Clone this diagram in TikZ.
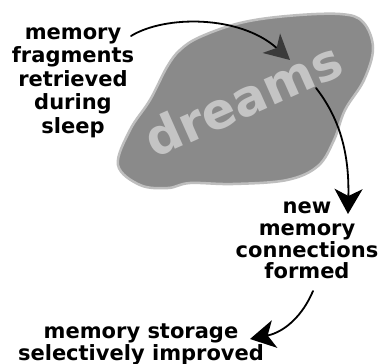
\documentclass[tikz,border=0pt]{standalone}
\usepackage{fontspec}
\setmainfont{DejaVu Sans}
\usetikzlibrary{arrows.meta}
\definecolor{blobfill}{HTML}{8A8A8A}
\definecolor{blobrim}{HTML}{BEBEBE}
\definecolor{dreamtxt}{HTML}{C4C4C4}
\definecolor{headgray}{HTML}{3A3A3A}
\begin{document}
\begin{tikzpicture}[x=1pt,y=-1pt,
  lbl/.style={font=\bfseries\fontsize{21}{22}\selectfont, align=center, inner sep=0pt, anchor=base, text=black},
  conn/.style={line width=1.8pt, line cap=round, -{Stealth[length=25pt,width=28pt,inset=7pt]}},
]
\useasboundingbox (0,0) rectangle (384,364);
\fill[white] (0,0) rectangle (384,364);
% blob
\draw[blobrim, line width=2.5pt, fill=blobfill] plot[smooth cycle, tension=0.6] coordinates {
  (200,37) (240,23) (287,16) (340,14) (363,22) (373,48) (364,80) (345,110)
  (334,140) (318,166) (287,180) (233,184) (190,183) (168,188) (140,185)
  (118,165) (130,130) (150,100) (167,67) (180,50)};
\node[rotate=24, text=dreamtxt, inner sep=0pt, font=\bfseries\fontsize{50}{50}\selectfont] (dreams) at (243,99) {dreams};
% labels (anchor=base is the baseline of the last line)
\node[lbl, font=\bfseries\fontsize{21}{23.5}\selectfont] (frag) at (73,133) {memory\\fragments\\retrieved\\during\\sleep};
\node[lbl] (newmem) at (307,279) {new\\memory\\connections\\formed};
\node[lbl] (store) at (141,360) {memory storage\\selectively improved};
% connectors
\coordinate (a1s) at (131,36);
\coordinate (a1e) at (290,60);
\coordinate (a2s) at (316,88);
\coordinate (a2e) at (348,214);
\coordinate (a3s) at (313,291);
\coordinate (a3e) at (250,339);
\draw[line width=1.8pt, line cap=round, -{Stealth[length=25pt,width=26pt,inset=7pt,color=headgray,fill=headgray]}] (a1s) .. controls (165,15) and (240,15) .. (a1e);
\draw[conn] (a2s) .. controls (345,125) and (349,165) .. (a2e);
\draw[conn] (a3s) .. controls (303,315) and (285,332) .. (a3e);
\end{tikzpicture}
\end{document}
